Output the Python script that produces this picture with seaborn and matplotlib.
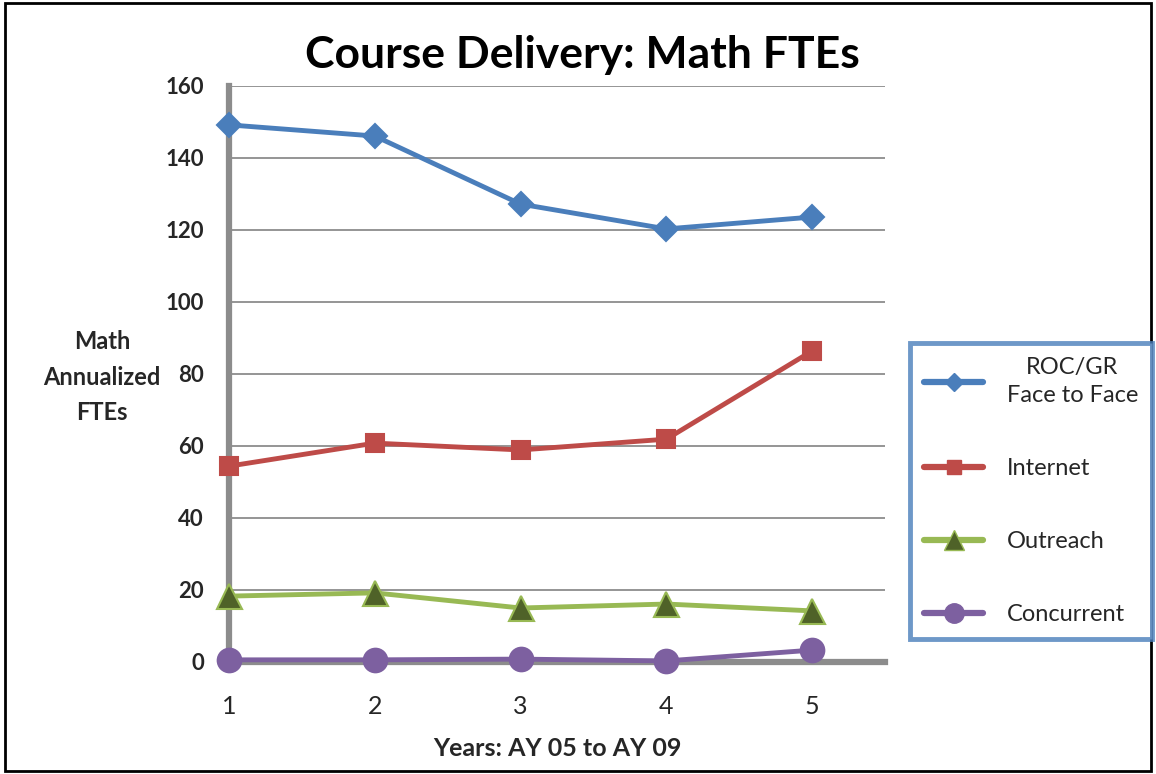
import pandas as pd
import matplotlib.pyplot as plt
import seaborn as sns
from matplotlib.lines import Line2D
from matplotlib.patches import Rectangle

# Course delivery data
years = [1, 2, 3, 4, 5]
roc_gr = [149.2, 146.1, 127.2, 120.3, 123.6]
internet = [54.4, 60.8, 58.9, 61.9, 86.4]
outreach = [18.3, 19.2, 15.0, 16.1, 14.2]
concurrent = [0.6, 0.6, 0.8, 0.3, 3.3]
series_names = ['ROC/GR\nFace to Face', 'Internet', 'Outreach', 'Concurrent']
yticks = [0, 20, 40, 60, 80, 100, 120, 140, 160]

# Long format for seaborn
df = pd.DataFrame({
    'Year': years * 4,
    'FTE': roc_gr + internet + outreach + concurrent,
    'Delivery': sum([[n] * len(years) for n in series_names], []),
})

sns.set_style('white')
plt.rcParams['font.family'] = ['Lato', 'DejaVu Sans']

line_colors = ['#4A7EBB', '#BE4B48', '#98B954', '#7D60A0']
markers = ['D', 's', '^', 'o']
marker_faces = ['#4A7EBB', '#BE4B48', '#4F6228', '#7D60A0']
marker_sizes = [12, 13, 18, 17]

fig = plt.figure(figsize=(11.56, 7.74), dpi=100)
ax = fig.add_axes([229 / 1156, 1 - 662 / 774, (885 - 229) / 1156, (662 - 86) / 774])

# Gridlines drawn first so lines sit on top
for y in yticks[1:]:
    ax.axhline(y, color='#8C8C8C', lw=1.3, zorder=0)

for i, name in enumerate(series_names):
    sub = df[df['Delivery'] == name]
    sns.lineplot(data=sub, x='Year', y='FTE', ax=ax, color=line_colors[i], lw=3.5,
                 marker=markers[i], markersize=marker_sizes[i],
                 markerfacecolor=marker_faces[i],
                 markeredgecolor=line_colors[i], markeredgewidth=1.5,
                 clip_on=False, zorder=3 + i, legend=False)

ax.set_xlim(1, 5.5)
ax.set_ylim(0, 160)
ax.set_xticks(years)
ax.set_yticks(yticks)
ax.set_yticklabels([str(t) for t in yticks], fontsize=16, fontweight='bold')
ax.set_xticklabels([str(t) for t in years], fontsize=18)
ax.tick_params(axis='both', length=6, width=2.5, color='#8C8C8C', direction='out')
ax.tick_params(axis='x', pad=18)
ax.tick_params(axis='y', pad=12)

for side in ['top', 'right']:
    ax.spines[side].set_visible(False)
for side in ['left', 'bottom']:
    ax.spines[side].set_color('#8C8C8C')
    ax.spines[side].set_linewidth(4.5)
ax.set_xlabel('')
ax.set_ylabel('')

fig.text(102 / 1156, 1 - 377 / 774, 'Math\nAnnualized\nFTEs', ha='center', va='center',
         fontsize=17, fontweight='bold', linespacing=1.65)
fig.text(557 / 1156, 1 - 748 / 774, 'Years: AY 05 to AY 09', ha='center', va='center',
         fontsize=18, fontweight='bold')
fig.text(582 / 1156, 1 - 55 / 774, 'Course Delivery: Math FTEs', ha='center', va='center',
         fontsize=32, fontweight='bold', color='black')

# Legend
handles = [Line2D([0], [0], color=line_colors[i], lw=4.5, marker=markers[i],
                  markersize=marker_sizes[i] - 3, markerfacecolor=marker_faces[i],
                  markeredgecolor=line_colors[i]) for i in range(4)]
leg = fig.legend(handles, series_names, loc='upper left',
                 bbox_to_anchor=(910 / 1156, 1 - 343 / 774), fontsize=17,
                 frameon=True, fancybox=False, handlelength=2.5, labelspacing=2.2,
                 borderpad=0.6, handletextpad=1.0, borderaxespad=0)
leg.get_frame().set_edgecolor('#4A7EBB')
leg.get_frame().set_linewidth(3.5)
for t in leg.get_texts():
    t.set_multialignment('center')
    t.set_linespacing(1.4)

# Outer border of the figure
fig.patches.append(Rectangle((0.004, 0.004), 0.992, 0.992, transform=fig.transFigure,
                             fill=False, edgecolor='black', lw=2))

fig.savefig('out.png', dpi=100)
